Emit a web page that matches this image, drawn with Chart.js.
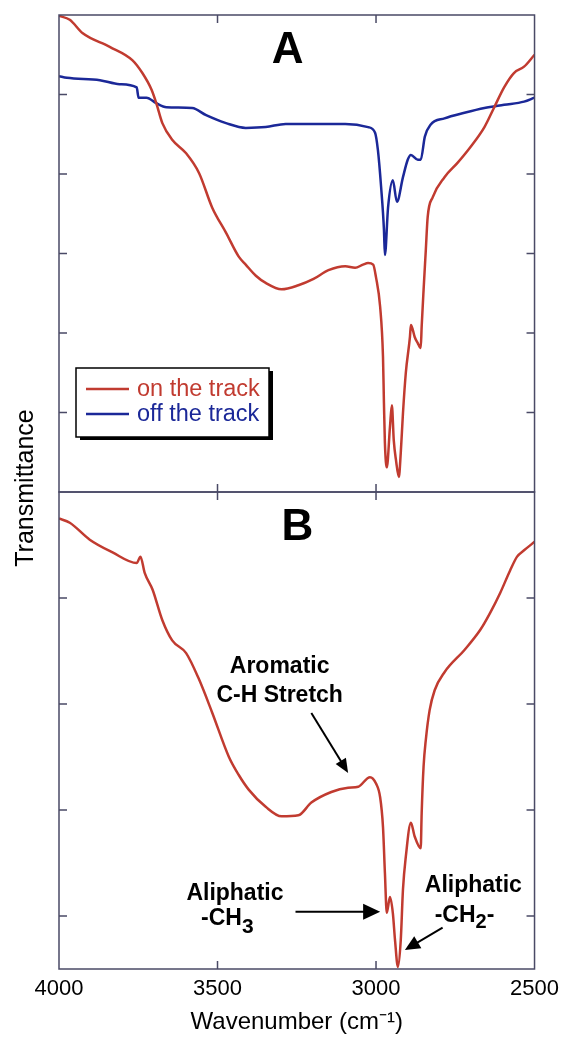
<!DOCTYPE html>
<html><head><meta charset="utf-8">
<script src="https://cdn.jsdelivr.net/npm/chart.js@4"></script>
<style>html,body{margin:0;padding:0;background:#fff}#wrap{position:relative;width:566px;height:1040px}</style>
</head><body><div id="wrap"><canvas id="c" width="566" height="1040"></canvas></div>
<script>
// ---- data (wavenumber in cm^-1, transmittance in arbitrary offset units) ----
const onTrackA_wn = [4000,3966,3925,3840,3768,3737,3708,3693,3674,3643,3599,3558,3517,3473,3433,3411,3379,3348,3298,3245,3197,3150,3097,3066,3041,3025,3009,3000,2987,2978,2975,2972,2966,2956,2950,2944,2937,2928,2922,2915,2906,2893,2890,2884,2878,2868,2859,2856,2850,2843,2837,2821,2784,2743,2702,2658,2627,2596,2565,2533,2500];
const onTrackA_T = [5.99,5.94,5.77,5.60,5.43,5.27,5.06,4.89,4.64,4.43,4.26,4.01,3.58,3.26,2.96,2.86,2.72,2.63,2.55,2.60,2.68,2.79,2.84,2.82,2.86,2.88,2.86,2.70,2.33,1.70,1.12,0.62,0.31,0.82,1.09,0.65,0.40,0.19,0.49,0.99,1.50,1.95,2.10,2.04,1.95,1.87,1.81,2.08,2.54,3.04,3.46,3.71,3.96,4.14,4.34,4.59,4.84,5.09,5.27,5.35,5.50];
const offTrackA_wn = [4000,3975,3871,3809,3755,3749,3724,3693,3661,3580,3536,3473,3411,3348,3285,3204,3097,3025,3003,2994,2984,2975,2972,2962,2947,2934,2915,2900,2890,2868,2859,2846,2828,2784,2721,2658,2596,2533,2500];
const offTrackA_T = [5.23,5.21,5.18,5.13,5.09,4.96,4.96,4.89,4.84,4.83,4.74,4.64,4.58,4.59,4.63,4.63,4.63,4.59,4.52,4.30,3.84,3.30,2.98,3.58,3.92,3.65,3.96,4.18,4.24,4.18,4.18,4.47,4.62,4.70,4.77,4.83,4.87,4.91,4.96];
const onTrackB_wn = [4000,3966,3903,3831,3755,3743,3730,3705,3674,3643,3599,3558,3517,3464,3433,3401,3348,3298,3245,3204,3141,3088,3056,3019,3000,2987,2978,2972,2966,2956,2947,2940,2931,2922,2915,2906,2890,2878,2859,2856,2850,2843,2831,2815,2784,2721,2671,2640,2608,2577,2555,2533,2500];
const onTrackB_T = [4.25,4.21,4.05,3.93,3.83,3.89,3.74,3.58,3.29,3.10,2.98,2.73,2.42,2.00,1.83,1.69,1.53,1.44,1.45,1.57,1.67,1.71,1.72,1.81,1.75,1.62,1.34,0.91,0.53,0.68,0.53,0.27,0.02,0.27,0.75,1.06,1.38,1.25,1.14,1.47,1.91,2.16,2.44,2.63,2.80,3.01,3.20,3.36,3.55,3.76,3.89,3.95,4.03];
const seriesLabels = ['on the track','off the track'];
const xTicks = [4000,3500,3000,2500];
const yATicks = [1,2,3,4,5];
const yBTicks = [0.5,1.5,2.5,3.5];

const RED = '#c13b30', BLUE = '#1b2898', FRAME = '#4a4a66';
const FONT = "'Liberation Sans', Arial, sans-serif";
Chart.defaults.font.family = FONT;
Chart.defaults.color = '#000';

const pts = (xs, ys) => xs.map((v, i) => ({x: v, y: ys[i]}));

function arrow(ctx, x1, y1, x2, y2, head, hw) {
  const a = Math.atan2(y2 - y1, x2 - x1), c = Math.cos(a), s = Math.sin(a);
  ctx.beginPath(); ctx.moveTo(x1, y1); ctx.lineTo(x2 - c * head * 0.7, y2 - s * head * 0.7); ctx.stroke();
  ctx.beginPath(); ctx.moveTo(x2, y2);
  ctx.lineTo(x2 - head * c + hw * s, y2 - head * s - hw * c);
  ctx.lineTo(x2 - head * c - hw * s, y2 - head * s + hw * c);
  ctx.closePath(); ctx.fill();
}
function subText(ctx, x, y, main, sub, tail, size, subSize, drop) {
  ctx.font = `bold ${size}px ${FONT}`; ctx.textAlign = 'left';
  ctx.fillText(main, x, y); let w = ctx.measureText(main).width;
  ctx.font = `bold ${subSize}px ${FONT}`; ctx.fillText(sub, x + w, y + drop); w += ctx.measureText(sub).width;
  if (tail) { ctx.font = `bold ${size}px ${FONT}`; ctx.fillText(tail, x + w, y); }
}

const framePlugin = {
  id: 'frame',
  afterDatasetsDraw(chart) {
    const {ctx} = chart; const x = chart.scales.x, yA = chart.scales.yA, yB = chart.scales.yB;
    const L = x.left, R = x.right, T = 8;
    ctx.save(); ctx.strokeStyle = FRAME; ctx.lineWidth = 1.5;
    [yA, yB].forEach(s => ctx.strokeRect(L, s.top, R - L, s.bottom - s.top));
    ctx.beginPath();
    [yA, yB].forEach(s => s.ticks.forEach(t => {
      const p = s.getPixelForValue(t.value);
      ctx.moveTo(L, p); ctx.lineTo(L + T, p); ctx.moveTo(R, p); ctx.lineTo(R - T, p);
    }));
    x.ticks.forEach(t => {
      const p = x.getPixelForValue(t.value);
      if (p <= L + 1 || p >= R - 1) return;
      ctx.moveTo(p, yA.top); ctx.lineTo(p, yA.top + T);
      ctx.moveTo(p, yA.bottom - T); ctx.lineTo(p, yB.top + T);
      ctx.moveTo(p, yB.bottom); ctx.lineTo(p, yB.bottom - T);
    });
    ctx.stroke(); ctx.restore();
  },
  afterDraw(chart) {
    const {ctx} = chart; const x = chart.scales.x, yA = chart.scales.yA, yB = chart.scales.yB;
    const L = x.left;
    ctx.save(); ctx.fillStyle = '#000'; ctx.strokeStyle = '#000';
    // y title
    ctx.save(); ctx.translate(26, yA.bottom - 4); ctx.rotate(-Math.PI / 2);
    ctx.font = `25px ${FONT}`; ctx.textAlign = 'center'; ctx.textBaseline = 'middle';
    ctx.fillText('Transmittance', 0, 0); ctx.restore();
    // panel letters
    ctx.font = `bold 44px ${FONT}`; ctx.textAlign = 'center'; ctx.textBaseline = 'alphabetic';
    ctx.fillText('A', x.getPixelForValue(3279), yA.getPixelForValue(5.40));
    ctx.fillText('B', x.getPixelForValue(3248), yB.getPixelForValue(4.05));
    // legend
    const ds = chart.data.datasets;
    const bx = L + 17, by = yA.top + 353, bw = 193, bh = 69;
    ctx.fillStyle = '#000'; ctx.fillRect(bx + 4, by + 3, bw, bh);
    ctx.fillStyle = '#fff'; ctx.fillRect(bx, by, bw, bh);
    ctx.lineWidth = 1.5; ctx.strokeRect(bx, by, bw, bh);
    ctx.font = `23.5px ${FONT}`; ctx.textAlign = 'left'; ctx.textBaseline = 'middle';
    [0, 1].forEach(i => {
      const yy = by + 21 + i * 25;
      ctx.strokeStyle = ds[i].borderColor; ctx.lineWidth = 2.5;
      ctx.beginPath(); ctx.moveTo(bx + 10, yy); ctx.lineTo(bx + 53, yy); ctx.stroke();
      ctx.fillStyle = ds[i].borderColor; ctx.fillText(ds[i].label, bx + 61, yy + 1);
    });
    // annotations in panel B
    ctx.fillStyle = '#000'; ctx.strokeStyle = '#000'; ctx.lineWidth = 2;
    ctx.textBaseline = 'alphabetic'; ctx.textAlign = 'center';
    ctx.font = `bold 23px ${FONT}`;
    ctx.fillText('Aromatic', x.getPixelForValue(3304), yB.getPixelForValue(2.79));
    ctx.fillText('C-H Stretch', x.getPixelForValue(3304), yB.getPixelForValue(2.52));
    arrow(ctx, x.getPixelForValue(3204), yB.getPixelForValue(2.415), x.getPixelForValue(3088), yB.getPixelForValue(1.85), 14, 6);
    ctx.font = `bold 23px ${FONT}`; ctx.textAlign = 'center';
    ctx.fillText('Aliphatic', x.getPixelForValue(3445), yB.getPixelForValue(0.65));
    subText(ctx, x.getPixelForValue(3552), yB.getPixelForValue(0.415), '-CH', '3', '', 23, 21, 8);
    arrow(ctx, x.getPixelForValue(3254), yB.getPixelForValue(0.54), x.getPixelForValue(2987), yB.getPixelForValue(0.54), 17, 8);
    ctx.textAlign = 'center'; ctx.font = `bold 23px ${FONT}`;
    ctx.fillText('Aliphatic', x.getPixelForValue(2693), yB.getPixelForValue(0.73));
    subText(ctx, x.getPixelForValue(2815), yB.getPixelForValue(0.44), '-CH', '2', '-', 23, 20, 6);
    arrow(ctx, x.getPixelForValue(2790), yB.getPixelForValue(0.39), x.getPixelForValue(2909), yB.getPixelForValue(0.18), 15, 7);
    ctx.restore();
  }
};

const lineDs = (label, data, color, axis) => ({
  label, data, borderColor: color, backgroundColor: color, borderWidth: 2.5,
  pointRadius: 0, cubicInterpolationMode: 'monotone', fill: false, yAxisID: axis
});

new Chart(document.getElementById('c'), {
  type: 'line',
  data: {
    datasets: [
      lineDs(seriesLabels[0], pts(onTrackA_wn, onTrackA_T), RED, 'yA'),
      lineDs(seriesLabels[1], pts(offTrackA_wn, offTrackA_T), BLUE, 'yA'),
      lineDs(seriesLabels[0] + ' (B)', pts(onTrackB_wn, onTrackB_T), RED, 'yB')
    ]
  },
  options: {
    responsive: false, animation: false, devicePixelRatio: 1,
    layout: {padding: {left: 0, right: 27, top: 15, bottom: 0}},
    plugins: {legend: {display: false}, tooltip: {enabled: false}},
    scales: {
      x: {
        type: 'linear', position: 'bottom', min: 2500, max: 4000, reverse: true,
        afterBuildTicks: s => { s.ticks = xTicks.map(v => ({value: v})); },
        afterFit: s => { s.height = 71; },
        grid: {display: false, drawTicks: false}, border: {display: false},
        ticks: {font: {size: 22}, color: '#000', padding: 7, maxRotation: 0, autoSkip: false, callback: v => String(v)},
        title: {display: true, text: 'Wavenumber (cm\u207B\u00B9)', font: {size: 24}, color: '#000', padding: {top: 0, bottom: 3}}
      },
      yB: {
        type: 'linear', position: 'left', stack: 'ir', stackWeight: 1, weight: 0, min: 0, max: 4.5,
        afterBuildTicks: s => { s.ticks = yBTicks.map(v => ({value: v})); },
        afterFit: s => { s.width = 59; },
        grid: {display: false}, border: {display: false}, ticks: {display: false}
      },
      yA: {
        type: 'linear', position: 'left', stack: 'ir', stackWeight: 1, weight: 1, min: 0, max: 6,
        afterBuildTicks: s => { s.ticks = yATicks.map(v => ({value: v})); },
        afterFit: s => { s.width = 59; },
        grid: {display: false}, border: {display: false}, ticks: {display: false}
      }
    }
  },
  plugins: [framePlugin]
});
</script>
</body></html>
